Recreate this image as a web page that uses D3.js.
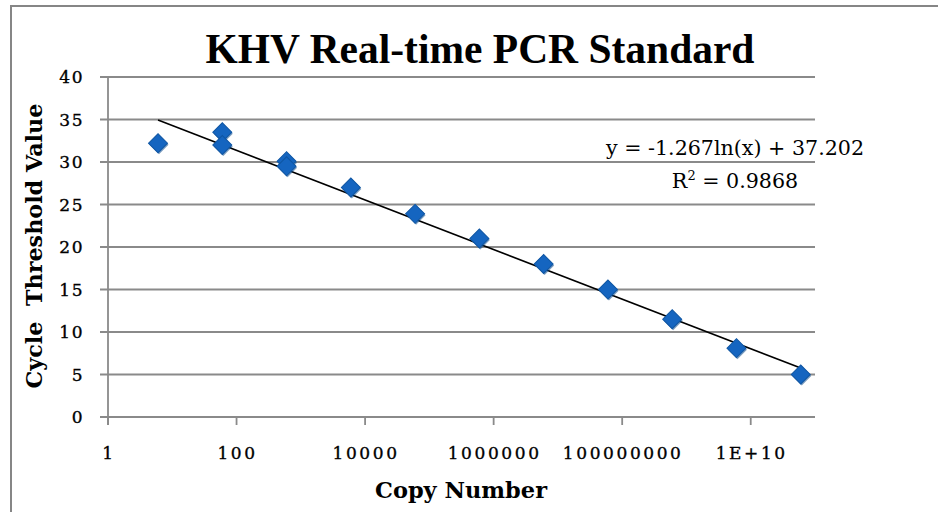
<!DOCTYPE html>
<html>
<head>
<meta charset="utf-8">
<script src="https://cdn.jsdelivr.net/npm/d3@7"></script>
<style>
  body { margin: 0; background: #fff; }
  svg { display: block; font-family: "DejaVu Serif", "Liberation Serif", serif; }
</style>
</head>
<body>
<script>
// data
var copyNumbers = [6, 60, 60, 600, 600, 6000, 60000, 600000, 6000000, 60000000, 600000000, 6000000000, 60000000000];
var ctValues    = [32.2, 33.5, 32.0, 30.1, 29.5, 27.0, 23.9, 21.0, 18.0, 15.0, 11.5, 8.1, 5.0];
var yTicks = [0, 5, 10, 15, 20, 25, 30, 35, 40];
var xTicks = [1, 100, 10000, 1000000, 100000000, 1e10];
var xTickLabels = ["1", "100", "10000", "1000000", "100000000", "1E+10"];
var trendSlope = -1.267, trendIntercept = 37.202;
var eqText = "y = -1.267ln(x) + 37.202";
var r2Text = " = 0.9868";

var width = 938, height = 512;
var plotL = 108, plotR = 815, plotT = 77, plotB = 417;
var gridColor = '#8a8a8a';

var svg = d3.select('body').append('svg')
    .attr('width', width)
    .attr('height', height);

// shrink/grow a text's font so it spans the wanted width
function fitWidth(sel, w) {
    var fs = parseFloat(sel.style('font-size'));
    var len = sel.node().getComputedTextLength();
    sel.style('font-size', (fs * w / len).toFixed(2) + 'px');
}

// outer frame
svg.append('path')
    .attr('d', 'M11,' + height + ' V6 H' + width)
    .attr('fill', 'none')
    .attr('stroke', '#868686')
    .attr('stroke-width', 2);

var x = d3.scaleLog()
    .domain([1, 1e11])
    .range([plotL, plotR]);

var y = d3.scaleLinear()
    .domain([0, 40])
    .range([plotB, plotT]);

// gridlines
svg.append('g').selectAll('line')
    .data(yTicks)
    .enter().append('line')
    .attr('x1', plotL - 8)
    .attr('x2', plotR)
    .attr('y1', function(d) { return y(d); })
    .attr('y2', function(d) { return y(d); })
    .attr('stroke', gridColor)
    .attr('stroke-width', 1.8);

// y axis line
svg.append('line')
    .attr('x1', plotL).attr('x2', plotL)
    .attr('y1', plotT).attr('y2', plotB + 8)
    .attr('stroke', gridColor)
    .attr('stroke-width', 1.8);

// x ticks
svg.append('g').selectAll('line')
    .data(xTicks)
    .enter().append('line')
    .attr('x1', function(d) { return x(d); })
    .attr('x2', function(d) { return x(d); })
    .attr('y1', plotB)
    .attr('y2', plotB + 8)
    .attr('stroke', gridColor)
    .attr('stroke-width', 1.8);

// y tick labels
svg.append('g').selectAll('text')
    .data(yTicks)
    .enter().append('text')
    .attr('x', 84)
    .attr('y', function(d) { return y(d) + 6; })
    .attr('text-anchor', 'end')
    .style('font-size', '17px')
    .style('letter-spacing', '1.5px')
    .style('stroke', '#000')
    .style('stroke-width', 0.35)
    .text(function(d) { return d; });

// x tick labels
svg.append('g').selectAll('text')
    .data(xTicks)
    .enter().append('text')
    .attr('x', function(d) { return x(d) + 1; })
    .attr('y', 459)
    .attr('text-anchor', 'middle')
    .style('font-size', '17px')
    .style('letter-spacing', '2.6px')
    .style('stroke', '#000')
    .style('stroke-width', 0.35)
    .text(function(d, i) { return xTickLabels[i]; });

// trendline over the data range
var xMin = d3.min(copyNumbers), xMax = d3.max(copyNumbers);
var trend = d3.line()
    .x(function(d) { return x(d); })
    .y(function(d) { return y(trendSlope * Math.log(d) + trendIntercept); });
svg.append('path')
    .attr('d', trend([xMin, xMax]))
    .attr('fill', 'none')
    .attr('stroke', '#000')
    .attr('stroke-width', 1.6);

// markers (with a soft shadow)
var pts = copyNumbers.map(function(c, i) { return { c: c, v: ctValues[i] }; });
var diamond = d3.symbol().type(d3.symbolSquare).size(180);
svg.append('g').selectAll('path')
    .data(pts)
    .enter().append('path')
    .attr('d', diamond)
    .attr('transform', function(d) { return 'translate(' + (x(d.c) + 1) + ',' + (y(d.v) + 1.5) + ') rotate(45)'; })
    .attr('fill', '#0d4a8a')
    .attr('opacity', 0.55);
svg.append('g').selectAll('path')
    .data(pts)
    .enter().append('path')
    .attr('d', diamond)
    .attr('transform', function(d) { return 'translate(' + x(d.c) + ',' + y(d.v) + ') rotate(45)'; })
    .attr('fill', '#1565c0')
    .attr('stroke', '#0f56a3')
    .attr('stroke-width', 1);

// equation
var eq = svg.append('text')
    .attr('x', 735)
    .attr('y', 155)
    .attr('text-anchor', 'middle')
    .style('font-size', '20px')
    .text(eqText);
fitWidth(eq, 258);
var r2 = svg.append('text')
    .attr('x', 735)
    .attr('y', 188)
    .attr('text-anchor', 'middle')
    .style('font-size', eq.style('font-size'));
r2.append('tspan').text('R');
r2.append('tspan').attr('dy', -8).style('font-size', '13px').text('2');
r2.append('tspan').attr('dy', 8).text(r2Text);

// titles
var title = svg.append('text')
    .attr('x', 480)
    .attr('y', 63)
    .attr('text-anchor', 'middle')
    .style('font-family', '"Liberation Serif", serif')
    .style('font-size', '40px')
    .style('font-weight', 'bold')
    .text('KHV Real-time PCR Standard');
fitWidth(title, 549);

var xTitle = svg.append('text')
    .attr('x', 461)
    .attr('y', 498)
    .attr('text-anchor', 'middle')
    .style('font-size', '21px')
    .style('font-weight', 'bold')
    .text('Copy Number');
fitWidth(xTitle, 172);

var yTitle = svg.append('text')
    .attr('transform', 'translate(42,246) rotate(-90)')
    .attr('text-anchor', 'middle')
    .style('font-size', '21px')
    .style('font-weight', 'bold')
    .style('white-space', 'pre')
    .text('Cycle  Threshold Value');
fitWidth(yTitle, 285);
</script>
</body>
</html>
